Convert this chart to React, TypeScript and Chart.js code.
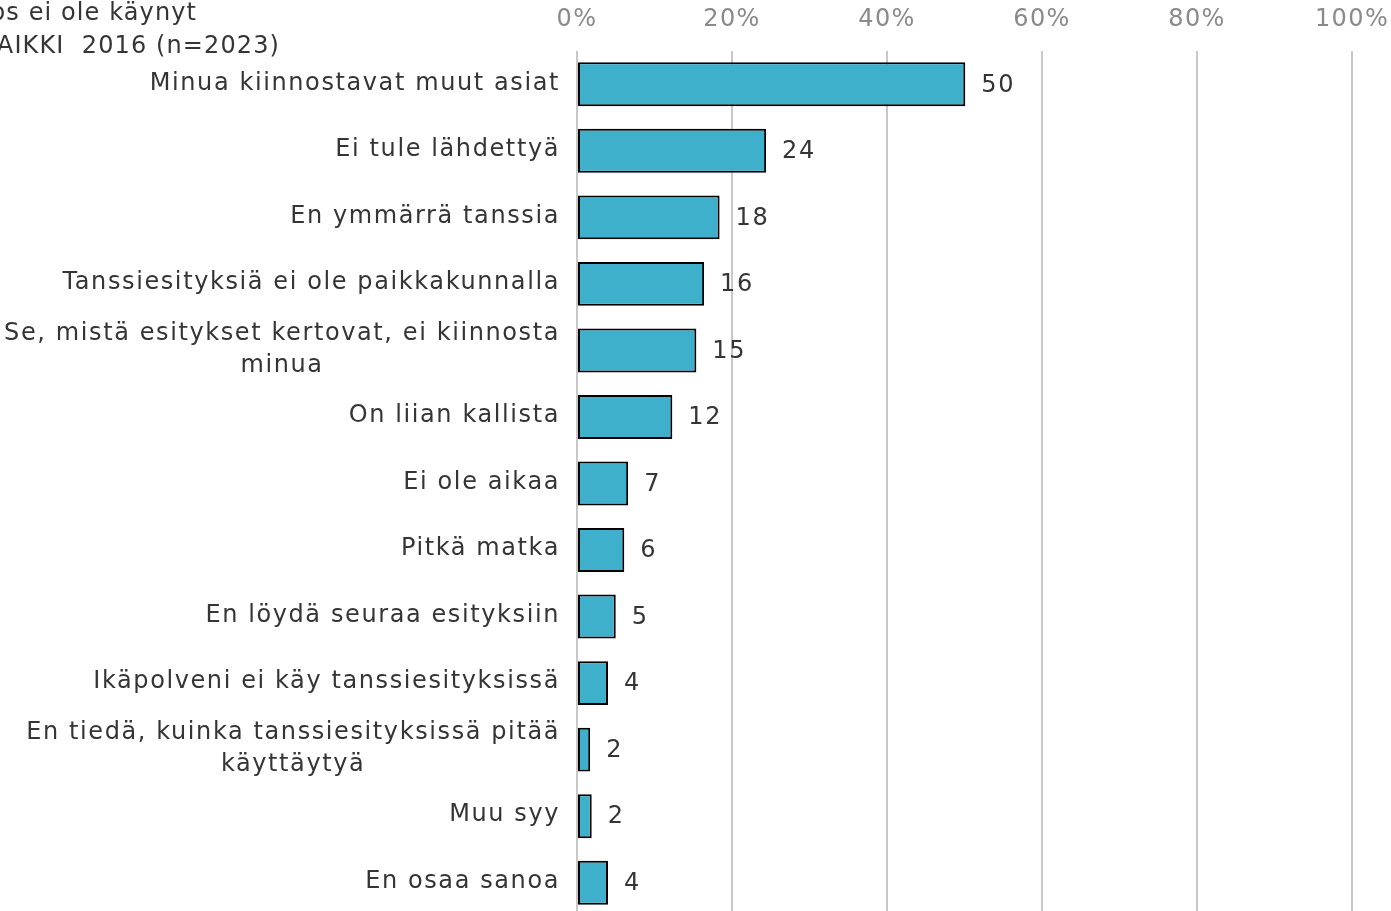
import React, { useEffect, useRef } from "react";
import { Chart, registerables } from "chart.js";

Chart.register(...registerables);

const categories: string[][] = [
  ["Minua kiinnostavat muut asiat"],
  ["Ei tule lähdettyä"],
  ["En ymmärrä tanssia"],
  ["Tanssiesityksiä ei ole paikkakunnalla"],
  ["Se, mistä esitykset kertovat, ei kiinnosta", "minua"],
  ["On liian kallista"],
  ["Ei ole aikaa"],
  ["Pitkä matka"],
  ["En löydä seuraa esityksiin"],
  ["Ikäpolveni ei käy tanssiesityksissä"],
  ["En tiedä, kuinka tanssiesityksissä pitää", "käyttäytyä"],
  ["Muu syy"],
  ["En osaa sanoa"],
];

const values: number[] = [50.1, 24.4, 18.4, 16.4, 15.4, 12.3, 6.6, 6.1, 5.0, 4.0, 1.7, 1.9, 4.0];
const valueLabels: string[] = ["50", "24", "18", "16", "15", "12", "7", "6", "5", "4", "2", "2", "4"];
const xTicks: number[] = [0, 20, 40, 60, 80, 100];
const titleLines: string[] = ["Syy, jos ei ole käynyt", "KAIKKI  2016 (n=2023)"];

const FONT = "DejaVu Sans";
const FS = 24;
const LS = "1.6px";
const TEXT = "#353535";

const customPlugin = {
  id: "custom",
  beforeDraw(chart: any) {
    (chart.ctx as any).letterSpacing = "1.4px";
  },
  afterDraw(chart: any) {
    const ctx = chart.ctx;
    const y = chart.scales.y;
    const meta = chart.getDatasetMeta(0);
    ctx.save();
    ctx.letterSpacing = LS;
    ctx.font = `${FS}px "${FONT}"`;
    ctx.fillStyle = TEXT;
    ctx.textBaseline = "middle";
    categories.forEach((lines, i) => {
      const cy = y.getPixelForValue(i);
      const widths = lines.map((l) => ctx.measureText(l).width);
      const maxW = Math.max(...widths);
      const right = chart.chartArea.left - 17;
      const cx = right - maxW / 2;
      const lh = 32;
      ctx.textAlign = "center";
      lines.forEach((l, k) => {
        const ly = cy - 1 + (k - (lines.length - 1) / 2) * lh;
        ctx.fillText(l, cx, ly);
      });
    });
    ctx.textAlign = "left";
    meta.data.forEach((bar: any, i: number) => {
      ctx.fillText(valueLabels[i], bar.x + 16, bar.y + 1);
    });
    ctx.letterSpacing = "1.1px";
    ctx.textAlign = "right";
    ctx.fillText(titleLines[0], 197, 14);
    ctx.fillText(titleLines[1], 280, 47);
    ctx.restore();
  },
};

export default function App() {
  const ref = useRef<HTMLCanvasElement>(null);
  useEffect(() => {
    const chart = new Chart(ref.current!, {
      type: "bar",
      data: {
        labels: categories.map((c) => c.join(" ")),
        datasets: [
          {
            data: values,
            backgroundColor: "#3eb0cc",
            borderColor: "#000000",
            borderWidth: 2,
            borderSkipped: false,
            barPercentage: 0.66,
            categoryPercentage: 1,
          },
        ],
      },
      options: {
        indexAxis: "y",
        animation: false,
        responsive: false,
        layout: { padding: { left: 577, right: 39, top: 4, bottom: 0 } },
        plugins: { legend: { display: false }, tooltip: { enabled: false }, title: { display: false } },
        scales: {
          x: {
            position: "top",
            min: 0,
            max: 100,
            afterBuildTicks: (scale: any) => {
              scale.ticks = xTicks.map((v) => ({ value: v }));
            },
            afterFit: (scale: any) => {
              scale.height = 47;
              scale.paddingLeft = 0;
              scale.paddingRight = 0;
            },
            grid: { color: "#c8c8c8", lineWidth: 2, drawTicks: false },
            border: { display: false },
            ticks: {
              padding: 17,
              color: "#8a8a8a",
              font: { family: FONT, size: FS },
              callback: (v: any) => `${v}%`,
            },
          },
          y: {
            display: false,
          },
        },
      },
      plugins: [customPlugin],
    });
    return () => chart.destroy();
  }, []);
  return (
    <div style={{ position: "fixed", left: 0, top: 0, width: 1391, height: 911, overflow: "hidden", background: "#fff" }}>
      <canvas ref={ref} width={1391} height={916} style={{ display: "block" }} />
    </div>
  );
}
